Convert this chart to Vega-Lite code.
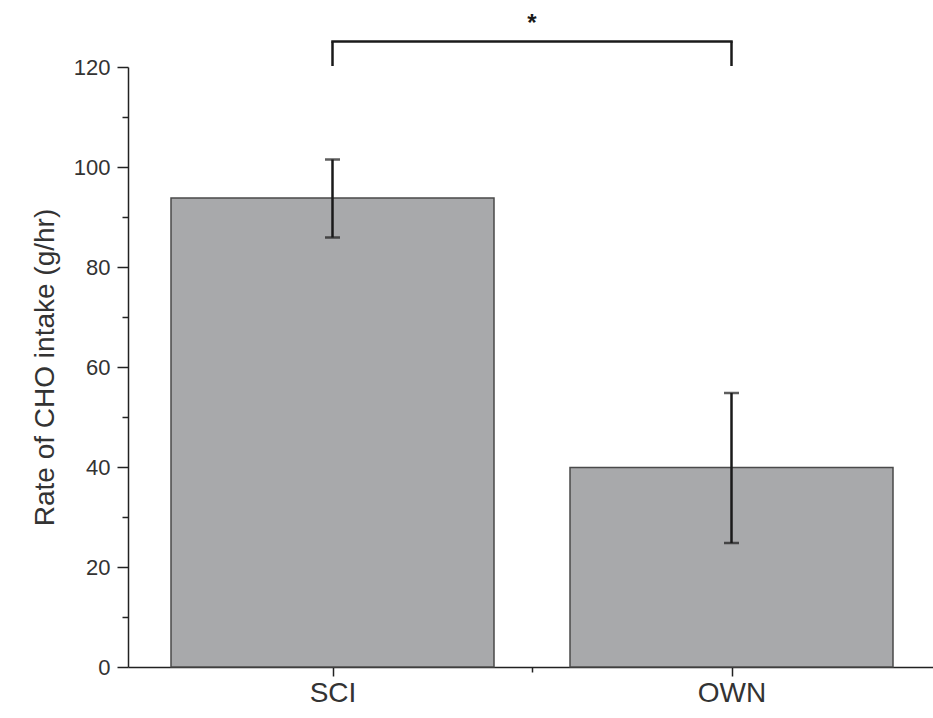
{
  "$schema": "https://vega.github.io/schema/vega-lite/v6.json",
  "autosize": "none",
  "width": 808,
  "height": 600,
  "padding": {"left": 128, "top": 67, "right": 0, "bottom": 51},
  "background": "white",
  "config": {
    "view": {"stroke": null},
    "font": "Liberation Sans",
    "axis": {"grid": false, "domainColor": "#222", "tickColor": "#222", "labelColor": "#333", "titleColor": "#333", "domainWidth": 1.5, "tickWidth": 1.5}
  },
  "datasets": {
    "bars": [
      {"group": "SCI", "pos": 1, "mean": 93.8, "lo": 85.9, "hi": 101.5},
      {"group": "OWN", "pos": 2, "mean": 39.9, "lo": 24.8, "hi": 54.8}
    ],
    "legs": [
      {"pos": 1, "y": 120.2, "y2": 125.1},
      {"pos": 2, "y": 120.2, "y2": 125.1}
    ],
    "span": [{"pos": 1, "pos2": 2, "y": 125.1}],
    "star": [{"pos": 1.5, "y": 128.6, "label": "*"}]
  },
  "layer": [
    {
      "data": {"name": "bars"},
      "mark": {"type": "bar", "width": 323, "fill": "#a8a9ab", "stroke": "#4a4a4a", "strokeWidth": 1.5},
      "encoding": {
        "x": {
          "field": "pos", "type": "quantitative",
          "scale": {"domain": [0.5, 2.5], "nice": false, "zero": false},
          "axis": {
            "title": null, "values": [1, 1.5, 2],
            "labelExpr": "datum.value == 1 ? 'SCI' : datum.value == 2 ? 'OWN' : ''",
            "labelFontSize": 28, "labelPadding": 3,
            "tickSize": {"condition": {"test": "datum.value == 1.5", "value": 5}, "value": 9}
          }
        },
        "y": {
          "field": "mean", "type": "quantitative",
          "scale": {"domain": [0, 120], "nice": false},
          "axis": {
            "title": "Rate of CHO intake (g/hr)", "titleFontSize": 28, "titleFontWeight": "normal", "titlePadding": 14,
            "values": [0, 10, 20, 30, 40, 50, 60, 70, 80, 90, 100, 110, 120],
            "labelExpr": "datum.value % 20 == 0 ? datum.label : ''",
            "labelFontSize": 22, "labelPadding": 7,
            "tickSize": {"condition": {"test": "datum.value % 20 != 0", "value": 6}, "value": 11}
          }
        }
      }
    },
    {
      "data": {"name": "bars"},
      "mark": {"type": "rule", "color": "#1a1a1a", "strokeWidth": 2.5},
      "encoding": {
        "x": {"field": "pos", "type": "quantitative"},
        "y": {"field": "lo", "type": "quantitative"},
        "y2": {"field": "hi"}
      }
    },
    {
      "data": {"name": "bars"},
      "mark": {"type": "tick", "color": "#1a1a1a", "orient": "horizontal", "size": 15, "thickness": 2.5},
      "encoding": {
        "x": {"field": "pos", "type": "quantitative"},
        "y": {"field": "lo", "type": "quantitative"}
      }
    },
    {
      "data": {"name": "bars"},
      "mark": {"type": "tick", "color": "#1a1a1a", "orient": "horizontal", "size": 15, "thickness": 2.5},
      "encoding": {
        "x": {"field": "pos", "type": "quantitative"},
        "y": {"field": "hi", "type": "quantitative"}
      }
    },
    {
      "data": {"name": "legs"},
      "mark": {"type": "rule", "color": "#1a1a1a", "strokeWidth": 2.5},
      "encoding": {
        "x": {"field": "pos", "type": "quantitative"},
        "y": {"field": "y", "type": "quantitative"},
        "y2": {"field": "y2"}
      }
    },
    {
      "data": {"name": "span"},
      "mark": {"type": "rule", "color": "#1a1a1a", "strokeWidth": 2.5, "strokeCap": "square"},
      "encoding": {
        "x": {"field": "pos", "type": "quantitative"},
        "x2": {"field": "pos2"},
        "y": {"field": "y", "type": "quantitative"}
      }
    },
    {
      "data": {"name": "star"},
      "mark": {"type": "text", "fontSize": 24, "fontWeight": "bold", "color": "#1a1a1a", "baseline": "middle"},
      "encoding": {
        "x": {"field": "pos", "type": "quantitative"},
        "y": {"field": "y", "type": "quantitative"},
        "text": {"field": "label"}
      }
    }
  ]
}
